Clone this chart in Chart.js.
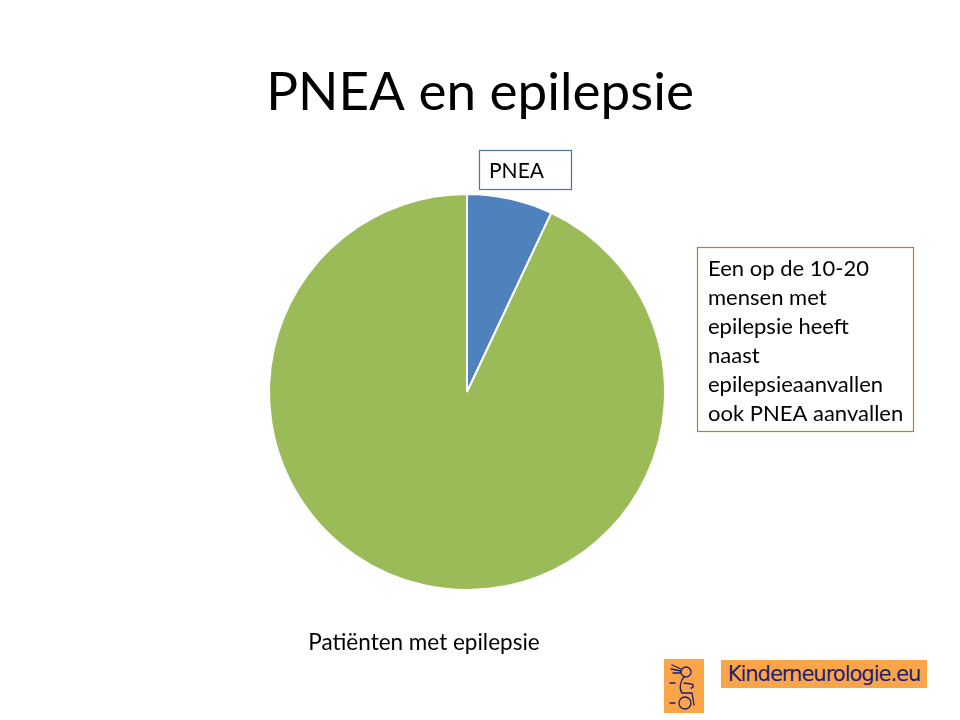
<!DOCTYPE html>
<html lang="nl">
<head>
<meta charset="UTF-8">
<title>PNEA en epilepsie</title>
<style>
  html, body { margin: 0; padding: 0; background: #fff; }
  #wrap { position: relative; width: 960px; height: 720px; overflow: hidden; }
  #pie { position: absolute; left: 0; top: 0; }
  #logoIcon { position: absolute; left: 664px; top: 659px; width: 40px; height: 54px; background: #F9A548; }
  #logoText {
    position: absolute; left: 721px; top: 660px; width: 206px; height: 28px;
    background: #F9A548; color: #1E1E78; font: 21px 'DejaVu Sans', sans-serif;
    line-height: 28px; text-align: center; letter-spacing: -1px; white-space: nowrap;
  }
</style>
</head>
<body>
<div id="wrap">
  <canvas id="pie" width="960" height="720"></canvas>
  <div id="logoIcon">
    <svg width="40" height="54" viewBox="0 0 40 54" fill="none" stroke="#1E1E78" stroke-width="1.3" stroke-linecap="round">
      <circle cx="22" cy="13" r="5"/>
      <path d="M8 6 L17 10 M7 10 L17 12 M9 14 L17 14"/>
      <path d="M20 18 C16 22 15 30 18 34 L28 34 L30 46"/>
      <path d="M20 24 L27 25 C30 25 30 29 27 29"/>
      <circle cx="21" cy="44" r="6"/>
      <path d="M6 24 L11 24 M6 44 L11 44"/>
    </svg>
  </div>
  <div id="logoText">Kinderneurologie.eu</div>
</div>

<script src="https://cdn.jsdelivr.net/npm/chart.js"></script>
<script>
  const chartTitle = 'PNEA en epilepsie';
  const categories = ['PNEA', 'Patiënten met epilepsie'];
  const shares = [7, 93];
  const sliceColors = ['#4F81BD', '#9BBB59'];
  const noteLines = [
    'Een op de 10-20',
    'mensen met',
    'epilepsie heeft',
    'naast',
    'epilepsieaanvallen',
    'ook PNEA aanvallen'
  ];

  const FONT = 'Lato, "Open Sans", sans-serif';

  // title, slice labels and the side note, drawn on top of the pie
  const slideText = {
    id: 'slideText',
    afterDraw(chart) {
      const ctx = chart.ctx;
      const arcs = chart.getDatasetMeta(0).data;
      const cx = arcs[0].x, cy = arcs[0].y, r = arcs[0].outerRadius;
      ctx.save();
      ctx.fillStyle = '#000';
      ctx.textBaseline = 'alphabetic';

      ctx.font = '53px ' + FONT;
      ctx.textAlign = 'center';
      ctx.fillText(chartTitle, 480, 110);

      // label of the small slice, boxed
      ctx.font = '21px ' + FONT;
      ctx.textAlign = 'left';
      ctx.strokeStyle = '#4F7394';
      ctx.lineWidth = 1.2;
      ctx.strokeRect(cx + 12.5, cy - r - 43.5, 92, 39);
      ctx.fillText(categories[0], cx + 22, cy - r - 16);

      // label of the large slice
      ctx.font = '22.5px ' + FONT;
      ctx.textAlign = 'center';
      ctx.fillText(categories[1], cx - 43, cy + r + 60);

      // side note
      ctx.strokeStyle = '#B87C38';
      ctx.strokeRect(697.5, 247.5, 216, 184);
      ctx.textAlign = 'left';
      ctx.font = '22px ' + FONT;
      noteLines.forEach((line, i) => ctx.fillText(line, 708, 276 + i * 29));
      ctx.restore();
    }
  };

  new Chart(document.getElementById('pie'), {
    type: 'pie',
    data: {
      labels: categories,
      datasets: [{
        data: shares,
        backgroundColor: sliceColors,
        borderColor: '#fff',
        borderWidth: 2
      }]
    },
    options: {
      responsive: false,
      animation: false,
      layout: { padding: { left: 268, right: 294, top: 193, bottom: 129 } },
      plugins: {
        legend: { display: false },
        title: { display: false },
        tooltip: { enabled: false }
      }
    },
    plugins: [slideText]
  });
</script>
</body>
</html>
